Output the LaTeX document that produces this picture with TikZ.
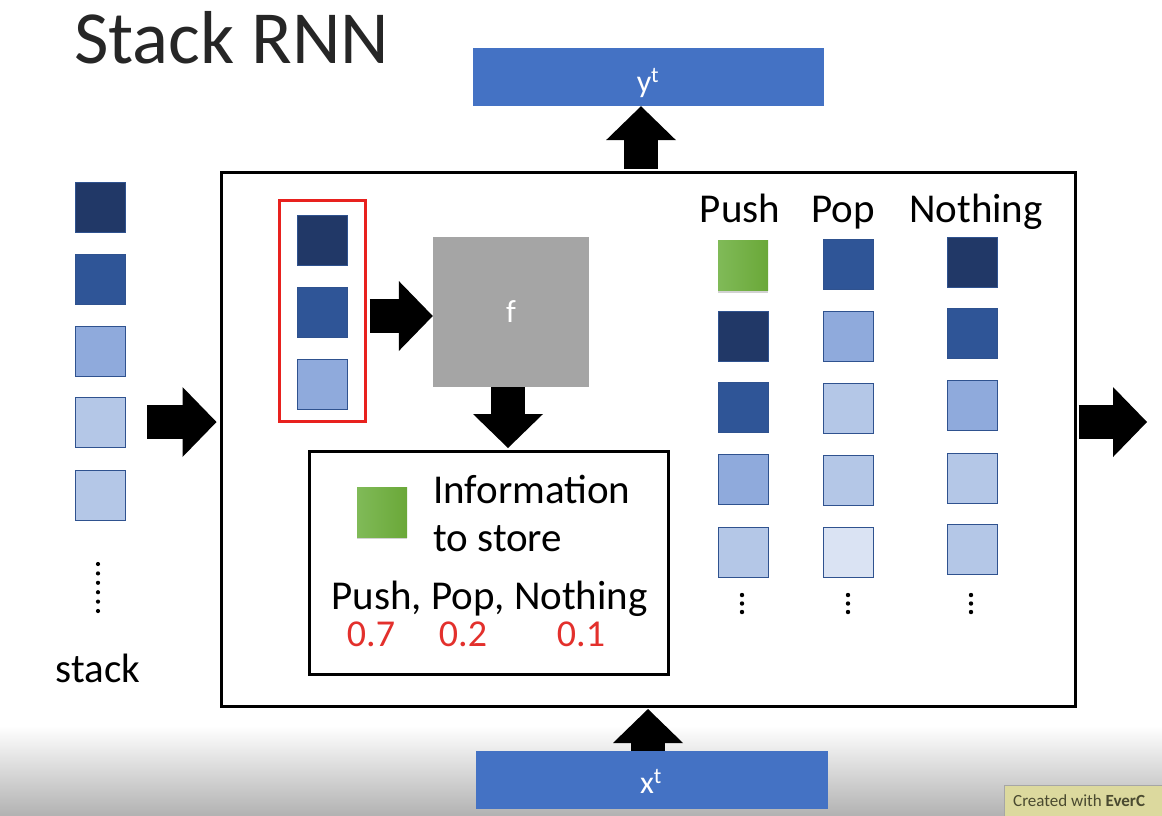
\documentclass[tikz,border=0pt]{standalone}
\usepackage{fontspec}
\setmainfont{Carlito}
\usetikzlibrary{arrows.meta,shadows,calc}
\definecolor{navy}{HTML}{213867}
\definecolor{mblue}{HTML}{2F5597}
\definecolor{lblue}{HTML}{8FAADC}
\definecolor{pblue}{HTML}{B4C7E7}
\definecolor{vpblue}{HTML}{DAE3F3}
\definecolor{edgeblue}{HTML}{2F528F}
\definecolor{obox}{HTML}{4472C4}
\definecolor{fgray}{HTML}{A5A5A5}
\definecolor{gleft}{HTML}{80BA58}
\definecolor{gright}{HTML}{6AA838}
\definecolor{redtxt}{HTML}{E3302C}
\definecolor{redbox}{HTML}{E8211E}
\definecolor{wmark}{HTML}{DCD99E}
\definecolor{wtext}{HTML}{4A4A30}
\tikzset{
  sq/.style={draw=edgeblue, line width=0.8pt, minimum size=50pt, inner sep=0pt},
  greensq/.style={minimum size=50pt, inner sep=0pt, left color=gleft, right color=gright,
    drop shadow={shadow xshift=0pt, shadow yshift=-2pt, opacity=0.35}},
  frame/.style={draw=black, line width=3pt, inner sep=0pt},
  fat/.style={line width=34pt, -{Triangle[width=70pt,length=34pt,line width=0pt]}},
  big/.style={font=\fontsize{41}{46}\selectfont, inner sep=0pt},
  num/.style={font=\fontsize{38}{44}\selectfont, text=redtxt, inner sep=0pt, anchor=base},
  vec/.style={fill=obox, inner sep=0pt, text=white, font=\fontsize{32}{36}\selectfont},
}
\begin{document}
\begin{tikzpicture}[x=1pt,y=-1pt]
\useasboundingbox (0,0) rectangle (1162,815);
\fill[white] (0,0) rectangle (1162,815);
\shade[top color=white, bottom color=black!30] (0,726) rectangle (1162,815);

% title
\node[anchor=base west, inner sep=0pt, font=\fontsize{75}{82}\selectfont, text=black!85] (title) at (74,63) {Stack RNN};

% output / input vectors
\node[vec, minimum width=351pt, minimum height=58pt] (yt) at (648.5,77) {};
\node[inner sep=0pt, text=white, font=\fontsize{32}{36}\selectfont, anchor=base] (ytl) at (648,92) {y\textsuperscript{t}};
\node[vec, minimum width=352pt, minimum height=58pt] (xt) at (652,780) {};
\node[inner sep=0pt, text=white, font=\fontsize{32}{36}\selectfont, anchor=base] (xtl) at (651,793) {x\textsuperscript{t}};

% main box
\node[frame, minimum width=854pt, minimum height=534pt] (main) at (648,439) {};

% stack on the left
\node[sq, fill=navy]  (s1) at (100,207) {};
\node[sq, fill=mblue] (s2) at (100,279) {};
\node[sq, fill=lblue] (s3) at (100,351) {};
\node[sq, fill=pblue] (s4) at (100,422) {};
\node[sq, fill=pblue] (s5) at (100,495) {};
\foreach \k in {0,...,5} \fill (98,{564+\k*9.4}) circle (2.1pt);
\node[big, anchor=base] (stacklbl) at (98,682) {stack};

% red group
\node[draw=redbox, line width=3pt, minimum width=86pt, minimum height=221pt, inner sep=0pt] (rbox) at (322,310.5) {};
\node[sq, fill=navy]  (r1) at (322,240) {};
\node[sq, fill=mblue] (r2) at (322,312) {};
\node[sq, fill=lblue] (r3) at (322,384) {};

% f
\node[fill=fgray, minimum width=156pt, minimum height=150pt, inner sep=0pt, text=white, font=\fontsize{32}{36}\selectfont] (f) at (511,312) {f};

% info box
\node[frame, minimum width=359pt, minimum height=223pt] (info) at (488.5,562.5) {};
\node[greensq] (g) at (382,512) {};
\node[big, anchor=base west] (inf1) at (433,503) {Information};
\node[big, anchor=base west] (inf2) at (433,551) {to store};
\node[big, anchor=base] (ppn) at (489.5,609) {Push, Pop, Nothing};
\node[num] (n1) at (371,646) {0.7};
\node[num] (n2) at (463,646) {0.2};
\node[num] (n3) at (581,646) {0.1};

% columns
\node[big, anchor=base] (lpush) at (740,222) {Push};
\node[big, anchor=base] (lpop) at (843,222) {Pop};
\node[big, anchor=base] (lnot) at (976,222) {Nothing};

\node[greensq]        (a1) at (743,265.5) {};
\node[sq, fill=navy]  (a2) at (743,336) {};
\node[sq, fill=mblue] (a3) at (743,407) {};
\node[sq, fill=lblue] (a4) at (743,479.5) {};
\node[sq, fill=pblue] (a5) at (743,552) {};

\node[sq, fill=mblue]  (b1) at (848,264.5) {};
\node[sq, fill=lblue]  (b2) at (848,336) {};
\node[sq, fill=pblue]  (b3) at (848,408) {};
\node[sq, fill=pblue]  (b4) at (848,480) {};
\node[sq, fill=vpblue] (b5) at (848,552) {};

\node[sq, fill=navy]  (c1) at (972,262.5) {};
\node[sq, fill=mblue] (c2) at (972,333.5) {};
\node[sq, fill=lblue] (c3) at (972,405.5) {};
\node[sq, fill=pblue] (c4) at (972,478) {};
\node[sq, fill=pblue] (c5) at (972,549.5) {};

\foreach \xx in {742,848,971} \foreach \k in {0,1,2} \fill (\xx,{595+\k*8.5}) circle (2.2pt);

% block arrows
\coordinate (lin) at (147,422);
\coordinate (rout) at (1147,422);
\draw[fat] (lin) -- ([xshift=-3pt]lin -| main.west);
\draw[fat] ([xshift=2pt]main.east |- rout) -- (rout);
\draw[fat] ([xshift=-7pt,yshift=1.5pt]main.north) -- ([xshift=-7pt]main.north |- yt.south);
\draw[fat] ([xshift=-4pt]xt.north) -- ([xshift=-4pt,yshift=-1.5pt]xt.north |- main.south);
\draw[fat] ([xshift=3pt,yshift=-5.5pt]rbox.east) -- ([yshift=-4pt]f.west);
\draw[fat] ([xshift=-3pt]f.south) -- ([xshift=-3pt,yshift=1.5pt]f.south |- info.north);

% watermark
\begin{scope}
\clip (0,0) rectangle (1162,815);
\node[fill=wmark, draw=black!35, line width=0.6pt, minimum width=170pt, minimum height=36pt, inner sep=0pt] (wm) at (1089,803) {};
\node[anchor=base west, inner sep=0pt, text=wtext, font=\fontsize{17}{19}\selectfont] (wmt) at (1013,806) {Created with \textbf{EverC}};
\end{scope}
\end{tikzpicture}
\end{document}
